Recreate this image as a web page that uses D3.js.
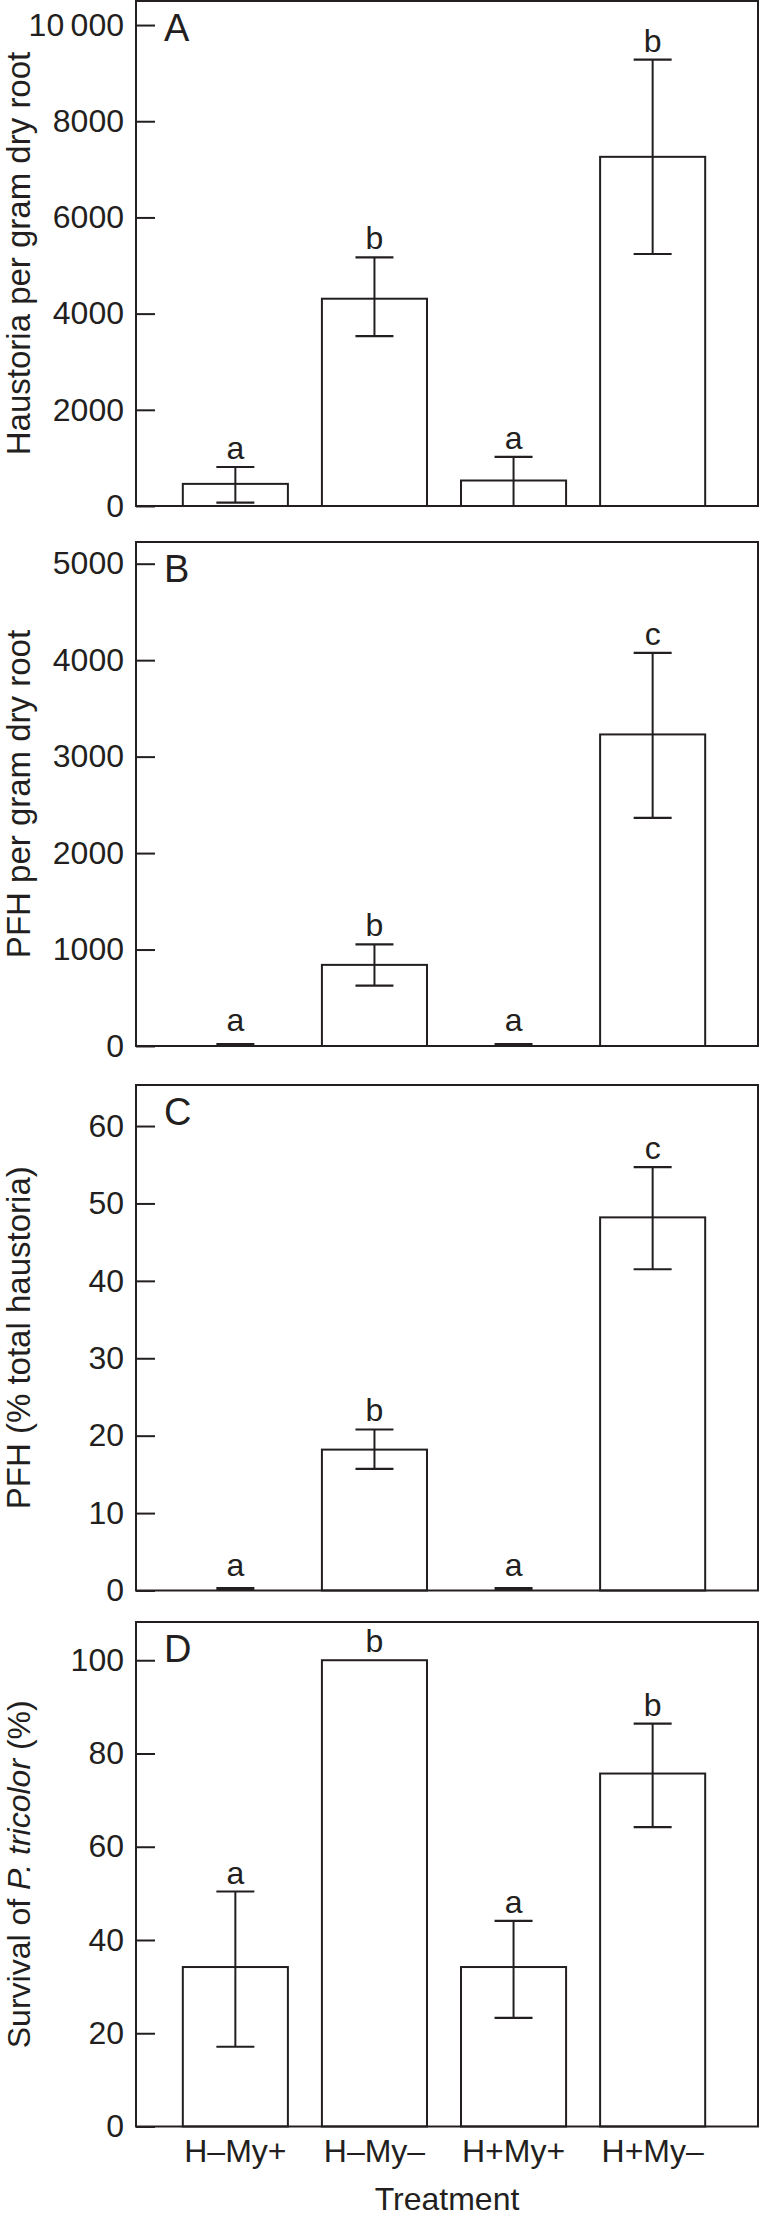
<!DOCTYPE html>
<html><head><meta charset="utf-8">
<script src="https://cdn.jsdelivr.net/npm/d3@7"></script>
<style>
body{margin:0;background:#fff}
text{font-family:"Liberation Sans",Arial,Helvetica,sans-serif;fill:#231f20}
</style>
</head><body>
<svg id="chart" width="760" height="2219"></svg>
<script>
// ---------- data ----------
const categories = ["H\u2013My+", "H\u2013My\u2013", "H+My+", "H+My\u2013"];

const meanA   = [460, 4310, 530, 7260];
const upperA  = [811, 5170, 1020, 9280];
const lowerA  = [69, 3530, 0, 5240];
const lettersA = ["a", "b", "a", "b"];
const ticksA  = [0, 2000, 4000, 6000, 8000, 10000];

const meanB   = [0, 841, 0, 3230];
const upperB  = [15, 1054, 15, 4076];
const lowerB  = [0, 626, 0, 2366];
const lettersB = ["a", "b", "a", "c"];
const ticksB  = [0, 1000, 2000, 3000, 4000, 5000];

const meanC   = [0, 18.2, 0, 48.2];
const upperC  = [0.25, 20.8, 0.25, 54.7];
const lowerC  = [0, 15.7, 0, 41.5];
const lettersC = ["a", "b", "a", "c"];
const ticksC  = [0, 10, 20, 30, 40, 50, 60];

const meanD   = [34.2, 100, 34.2, 75.7];
const upperD  = [50.4, null, 44.1, 86.4];
const lowerD  = [17.1, null, 23.3, 64.2];
const lettersD = ["a", "b", "a", "b"];
const ticksD  = [0, 20, 40, 60, 80, 100];

const xTitle = "Treatment";

// ---------- layout ----------
const ink = "#231f20";
const frameL = 136, frameR = 758;
const panels = [
  {id:"A", mean:meanA, upper:upperA, lower:lowerA, letters:lettersA, ticks:ticksA, max:10500, top:1, bottom:506,
   label:[{t:"Haustoria per gram dry root"}], fs:33, fmt:d => d === 10000 ? "10\u2009000" : String(d)},
  {id:"B", mean:meanB, upper:upperB, lower:lowerB, letters:lettersB, ticks:ticksB, max:5225, top:542, bottom:1046,
   label:[{t:"PFH per gram dry root"}], fs:33, fmt:d => String(d)},
  {id:"C", mean:meanC, upper:upperC, lower:lowerC, letters:lettersC, ticks:ticksC, max:65.3, top:1085, bottom:1590.5,
   label:[{t:"PFH (% total haustoria)"}], fs:33, fmt:d => String(d)},
  {id:"D", mean:meanD, upper:upperD, lower:lowerD, letters:lettersD, ticks:ticksD, max:108.2, top:1622, bottom:2126.5,
   label:[{t:"Survival of "},{t:"P. tricolor",i:true},{t:" (%)"}], fs:32, fmt:d => String(d)}
];

const svg = d3.select("#chart");
const x = d3.scaleBand().domain(categories).range([155, 733]).paddingInner(0.2446).paddingOuter(0.2);
const capW = 38;

panels.forEach((p, pi) => {
  const y = d3.scaleLinear().domain([0, p.max]).range([p.bottom, p.top]);
  const g = svg.append("g");
  const rows = categories.map((c, i) => ({c, m:p.mean[i], u:p.upper[i], l:p.lower[i], L:p.letters[i]}));

  // bars
  g.selectAll("rect.bar").data(rows.filter(d => d.m > 0)).join("rect")
    .attr("x", d => x(d.c)).attr("width", x.bandwidth())
    .attr("y", d => y(d.m)).attr("height", d => y(0) - y(d.m))
    .attr("fill", "#fff").attr("stroke", ink).attr("stroke-width", 2);

  // error bars
  const eb = rows.filter(d => d.u != null);
  const cx = d => x(d.c) + x.bandwidth() / 2;
  g.selectAll("line.v").data(eb).join("line")
    .attr("x1", cx).attr("x2", cx)
    .attr("y1", d => y(d.u)).attr("y2", d => y(Math.max(0, d.l)))
    .attr("stroke", ink).attr("stroke-width", 2);
  g.selectAll("line.cu").data(eb).join("line")
    .attr("x1", d => cx(d) - capW/2).attr("x2", d => cx(d) + capW/2)
    .attr("y1", d => y(d.u)).attr("y2", d => y(d.u))
    .attr("stroke", ink).attr("stroke-width", d => d.m > 0 ? 2.2 : 3);
  g.selectAll("line.cl").data(eb.filter(d => d.l > 0)).join("line")
    .attr("x1", d => cx(d) - capW/2).attr("x2", d => cx(d) + capW/2)
    .attr("y1", d => y(d.l)).attr("y2", d => y(d.l))
    .attr("stroke", ink).attr("stroke-width", 2.2);

  // significance letters
  g.selectAll("text.sig").data(rows).join("text")
    .attr("x", cx).attr("y", d => Math.min(y(d.u != null ? d.u : d.m) - 8, y(0) - 15))
    .attr("text-anchor", "middle").attr("font-size", 32).text(d => d.L);

  // frame
  g.append("rect").attr("x", frameL).attr("y", p.top)
    .attr("width", frameR - frameL).attr("height", p.bottom - p.top)
    .attr("fill", "none").attr("stroke", ink).attr("stroke-width", 2);

  // y axis (inward ticks)
  const ax = g.append("g").attr("transform", `translate(${frameL},0)`)
    .call(d3.axisLeft(y).tickValues(p.ticks).tickSize(-19).tickPadding(12).tickFormat(p.fmt));
  ax.select(".domain").remove();
  ax.selectAll("line").attr("stroke", ink).attr("stroke-width", 2);
  ax.selectAll("text").attr("font-size", 32).attr("fill", ink)
    .attr("font-family", "'Liberation Sans',Arial,Helvetica,sans-serif");
  ax.attr("font-size", null).attr("font-family", null);

  // panel letter
  g.append("text").attr("x", 164).attr("y", p.top + 40).attr("font-size", 38).text(p.id);

  // y label
  const yl = g.append("text")
    .attr("transform", `translate(30,${(p.top + p.bottom) / 2}) rotate(-90)`)
    .attr("text-anchor", "middle").attr("font-size", p.fs);
  p.label.forEach(s => yl.append("tspan").attr("font-style", s.i ? "italic" : null).text(s.t));

  // x axis labels on the last panel
  if (pi === panels.length - 1) {
    const xa = g.append("g").attr("transform", `translate(0,${p.bottom})`)
      .call(d3.axisBottom(x).tickSize(0).tickPadding(13));
    xa.select(".domain").remove();
    xa.selectAll("text").attr("font-size", 32).attr("fill", ink)
      .attr("font-family", "'Liberation Sans',Arial,Helvetica,sans-serif");
    g.append("text").attr("x", (frameL + frameR) / 2).attr("y", 2210)
      .attr("text-anchor", "middle").attr("font-size", 32).text(xTitle);
  }
});
</script>
</body></html>
